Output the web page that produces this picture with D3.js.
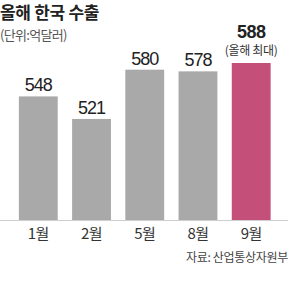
<!DOCTYPE html>
<html>
<head>
<meta charset="utf-8">
<script src="https://cdn.jsdelivr.net/npm/d3@7"></script>
<style>
  body { margin: 0; background: #fff; }
  svg { display: block; font-family: "Liberation Sans", "Noto Sans CJK KR", sans-serif; }
</style>
</head>
<body>
<svg id="chart" width="300" height="289"></svg>
<script>
var months = ['1월', '2월', '5월', '8월', '9월'];
var exports = [548, 521, 580, 578, 588];
var highlight = [false, false, false, false, true];

var svg = d3.select('#chart');
var ko = '"Noto Sans CJK KR", sans-serif';

// title block
svg.append('text')
    .attr('x', 0).attr('y', 19)
    .style('font-family', ko)
    .style('font-size', '17px')
    .style('font-weight', 'bold')
    .style('letter-spacing', '-0.3px')
    .style('fill', '#222')
    .text('올해 한국 수출');

svg.append('text')
    .attr('x', 0).attr('y', 40)
    .style('font-family', ko)
    .style('font-size', '13px')
    .style('letter-spacing', '-0.7px')
    .style('fill', '#555')
    .text('(단위:억달러)');

var x = d3.scaleBand().domain(months).range([4.5, 285]).padding(0.27);
var y = d3.scaleLinear().domain([400, 588]).range([220, 63]);

svg.append('line')
    .attr('x1', 0).attr('x2', 288)
    .attr('y1', y(400) + 0.5).attr('y2', y(400) + 0.5)
    .style('stroke', '#cfcfcf');

svg.selectAll('rect.bar')
    .data(exports)
    .enter().append('rect')
    .attr('class', 'bar')
    .attr('x', function(d, i) { return x(months[i]); })
    .attr('y', function(d) { return y(d); })
    .attr('width', x.bandwidth())
    .attr('height', function(d) { return y(400) - y(d); })
    .style('fill', function(d, i) { return highlight[i] ? '#c44f78' : '#a9a9a9'; });

// value labels
svg.selectAll('text.val')
    .data(exports)
    .enter().append('text')
    .attr('class', 'val')
    .attr('x', function(d, i) { return x(months[i]) + x.bandwidth() / 2; })
    .attr('y', function(d, i) { return highlight[i] ? y(d) - 25 : y(d) - 5; })
    .attr('text-anchor', 'middle')
    .style('font-size', '18px')
    .style('letter-spacing', function(d, i) { return highlight[i] ? '-0.5px' : '-1px'; })
    .style('font-weight', function(d, i) { return highlight[i] ? 'bold' : 'normal'; })
    .style('fill', '#222')
    .text(function(d) { return d; });

// note under the top value
exports.forEach(function(d, i) {
    if (!highlight[i]) return;
    svg.append('text')
        .attr('x', x(months[i]) + x.bandwidth() / 2)
        .attr('y', y(d) - 8)
        .attr('text-anchor', 'middle')
        .style('font-family', ko)
        .style('font-size', '12px')
        .style('letter-spacing', '-0.3px')
        .style('fill', '#333')
        .text('(올해 최대)');
});

svg.selectAll('text.month')
    .data(months)
    .enter().append('text')
    .attr('class', 'month')
    .attr('x', function(d) { return x(d) + x.bandwidth() / 2; })
    .attr('y', 239)
    .attr('text-anchor', 'middle')
    .style('font-family', ko)
    .style('font-size', '15px')
    .style('letter-spacing', '-0.5px')
    .style('fill', '#333')
    .text(function(d) { return d; });

svg.append('text')
    .attr('x', 288).attr('y', 262)
    .attr('text-anchor', 'end')
    .style('font-family', ko)
    .style('font-size', '12px')
    .style('letter-spacing', '-0.3px')
    .style('fill', '#444')
    .text('자료: 산업통상자원부');
</script>
</body>
</html>
